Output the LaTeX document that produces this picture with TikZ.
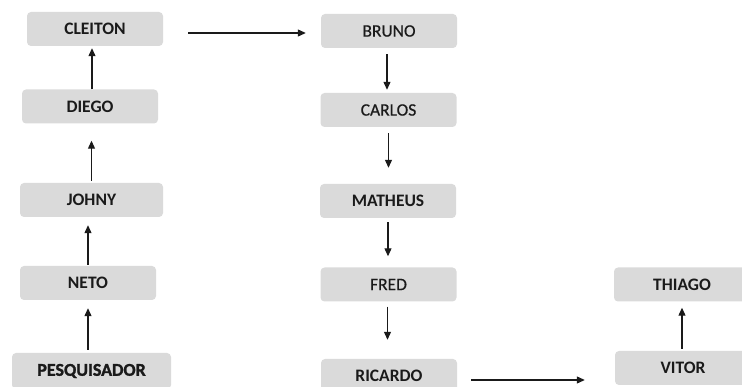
\documentclass[tikz,border=0pt]{standalone}
\usepackage{fontspec}
\setmainfont{Carlito}
\newfontfamily\pesqfont[FakeBold=1.5]{Carlito Bold}
\newfontfamily\medfont[FakeBold=0.6]{Carlito}
\usetikzlibrary{arrows.meta}
\definecolor{boxgray}{HTML}{DADADA}
\definecolor{txt}{HTML}{1A1A1A}
\tikzset{
  pbox/.style={fill=boxgray, rounded corners=4pt, minimum width=136pt, minimum height=34pt, inner sep=0pt, text=txt, font=\fontsize{17.5}{19}\selectfont\bfseries},
  pboxr/.style={pbox, font=\fontsize{17.5}{19}\medfont},
  arr/.style={line width=1.1pt, draw=txt, -{Triangle[length=8pt,width=7pt]}}
}
\begin{document}
\begin{tikzpicture}[x=1pt,y=-1pt]
\useasboundingbox (0,0) rectangle (742,387);
\clip (0,0) rectangle (742,387);
% left column
\node[pbox] (cleiton) at (95,29) {CLEITON};
\node[pbox] (diego) at (90,106.5) {DIEGO};
\node[pbox, minimum width=143pt] (johny) at (91.5,200) {JOHNY};
\node[pbox] (neto) at (88,283) {NETO};
\node[pbox, minimum width=159pt, minimum height=36pt, font=\fontsize{18}{20}\pesqfont] (pesq) at (91.5,371) {PESQUISADOR};
% middle column
\node[pboxr] (bruno) at (389,31) {BRUNO};
\node[pboxr] (carlos) at (388.5,110) {CARLOS};
\node[pbox] (matheus) at (388,201) {MATHEUS};
\node[pboxr] (fred) at (388.5,284.5) {FRED};
\node[pbox] (ricardo) at (389,376) {RICARDO};
% right column
\node[pbox] (thiago) at (682,284.5) {THIAGO};
\node[pbox] (vitor) at (683,368) {VITOR};
% arrows
\draw[arr, shorten <=25pt, shorten >=15pt] ([yshift=-4pt]cleiton.east) -- ([yshift=-4pt]cleiton.east -| bruno.west);
\draw[arr, shorten >=2pt] ([xshift=2pt]diego.north) -- ([xshift=2pt]diego.north |- cleiton.south);
\draw[arr, shorten <=2pt, shorten >=17pt] ([xshift=0pt]johny.north) -- ([xshift=0pt]johny.north |- diego.south);
\draw[arr, shorten <=1pt, shorten >=8pt] (neto.north) -- (neto.north |- johny.south);
\draw[arr, shorten <=3pt, shorten >=8pt] ([xshift=-3.5pt]pesq.north) -- ([xshift=-3.5pt]pesq.north |- neto.south);
\draw[arr, shorten <=6pt, shorten >=3pt] ([xshift=-2pt]bruno.south) -- ([xshift=-2pt]bruno.south |- carlos.north);
\draw[arr, shorten <=6pt, shorten >=16pt] (carlos.south) -- (carlos.south |- matheus.north);
\draw[arr, shorten <=4pt, shorten >=11pt] (matheus.south) -- (matheus.south |- fred.north);
\draw[arr, shorten <=5pt, shorten >=19pt] ([xshift=-1pt]fred.south) -- ([xshift=-1pt]fred.south |- ricardo.north);
\draw[arr, shorten <=14pt, shorten >=30pt] ([yshift=-4pt]ricardo.east) -- ([yshift=-4pt]ricardo.east -| vitor.west);
\draw[arr, shorten <=2pt, shorten >=6pt] ([xshift=-1pt]vitor.north) -- ([xshift=-1pt]vitor.north |- thiago.south);
\end{tikzpicture}
\end{document}
